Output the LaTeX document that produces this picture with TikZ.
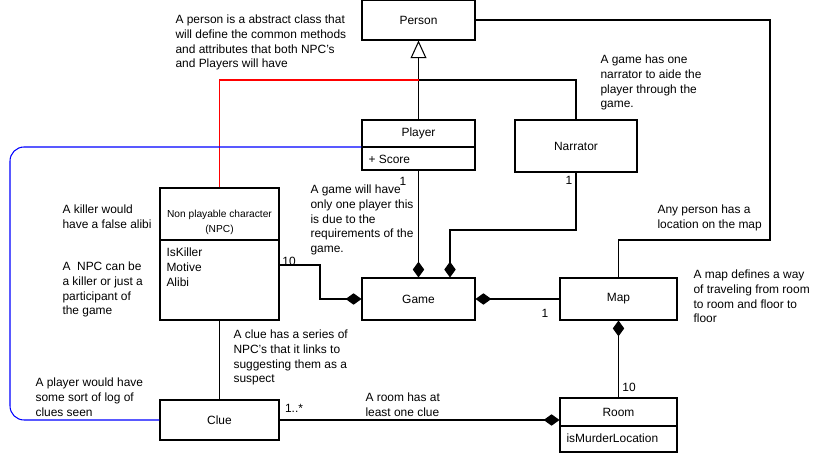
\documentclass[tikz,border=0pt]{standalone}
\usepackage{fontspec}
\setmainfont{Liberation Sans}
\usetikzlibrary{arrows.meta, calc, positioning}
\tikzset{
  cls/.style={draw, fill=white, inner sep=0pt},
  note/.style={anchor=north west, align=left, inner sep=0pt, font=\fontsize{6.8}{8.5}\selectfont},
  lbl/.style={inner sep=0pt, font=\fontsize{6.8}{8.5}\selectfont},
  diamond end/.style={-{Diamond[length=9pt,width=6.5pt]}},
  diamond start/.style={{Diamond[length=9pt,width=6.5pt]}-},
  inherit/.style={-{Triangle[open,length=10pt,width=9pt]}}
}
\begin{document}
\begin{tikzpicture}[x=0.02cm, y=-0.02cm, line width=0.6pt, font=\fontsize{6.8}{8.5}\selectfont]
  \useasboundingbox (0,0) rectangle (822,455);
  % classes
  \node[cls, minimum width=2.26cm, minimum height=0.8cm] (person) at (418.5,20) {Person};
  \node[cls, minimum width=2.26cm, minimum height=1cm] (player) at (418.5,145) {};
  \node[cls, minimum width=2.44cm, minimum height=1.04cm] (narrator) at (576,146) {Narrator};
  \node[cls, minimum width=2.38cm, minimum height=2.64cm] (npc) at (219.5,254) {};
  \node[cls, minimum width=2.26cm, minimum height=0.84cm] (game) at (418.5,299) {Game};
  \node[cls, minimum width=2.34cm, minimum height=0.84cm] (map) at (618.5,299) {Map};
  \node[cls, minimum width=2.38cm, minimum height=0.8cm] (clue) at (219.5,420) {Clue};
  \node[cls, minimum width=2.34cm, minimum height=1.08cm] (room) at (618.5,425) {};
  % compartments
  \draw (player.west |- 0,147) -- (player.east |- 0,147);
  \node[lbl] (playername) at (418.5,133) {Player};
  \node[lbl, anchor=west] (score) at (368,159) {+ Score};
  \draw (npc.west |- 0,240) -- (npc.east |- 0,240);
  \node[lbl, align=center, font=\fontsize{5.8}{8.5}\selectfont] (npcname) at (219.5,222) {Non playable character\\(NPC)};
  \node[note] (npcattr) at (166,247) {IsKiller\\Motive\\Alibi};
  \draw (room.west |- 0,426) -- (room.east |- 0,426);
  \node[lbl] (roomname) at (618.5,412) {Room};
  \node[lbl, anchor=west] (roomattr) at (566,438) {isMurderLocation};
  % inheritance
  \coordinate (join) at (418.5,80);
  \draw[inherit] (player.north) -- (person.south);
  \draw (narrator.north) |- (join);
  \draw[red] (npc.north) |- (join);
  % associations
  \draw[blue, rounded corners=8pt] (player.west |- 0,147) -- (10,147) -- (10,420) -- (clue.west);
  \draw (person.east) -- (770,20) -- (770,240) -| (map.north);
  \draw[diamond end] (player.south) -- (game.north);
  \draw[diamond end] (narrator.south) |- (450,230) -- (game.north -| 450,0);
  \draw[diamond end] (npc.east |- 0,265) -- (320,265) |- (game.west);
  \draw[diamond end] (map.west) -- (game.east);
  \draw[diamond start] (map.south) -- (room.north);
  \draw (npc.south) -- (clue.north);
  \draw[diamond end] (clue.east) -- (clue.east -| room.west);
  % multiplicities
  \node[lbl] (m1) at (403,181) {1};
  \node[lbl] (m2) at (569,180) {1};
  \node[lbl] (m3) at (289,261) {10};
  \node[lbl] (m4) at (545,313) {1};
  \node[lbl] (m5) at (629,387) {10};
  \node[lbl] (m6) at (294,408) {1..*};
  % notes
  \node[note] (n1) at (175,14) {A person is a abstract class that\\will define the common methods\\and attributes that both NPC's\\and Players will have};
  \node[note] (n2) at (600,54) {A game has one\\narrator to aide the\\player through the\\game.};
  \node[note] (n3) at (62,204) {A killer would\\have a false alibi};
  \node[note] (n4) at (62,261) {A \ NPC can be\\a killer or just a\\participant of\\the game};
  \node[note] (n5) at (310,184) {A game will have\\only one player this\\is due to the\\requirements of the\\game.};
  \node[note] (n6) at (657,204) {Any person has a\\location on the map};
  \node[note] (n7) at (693,269) {A map defines a way\\of traveling from room\\to room and floor to\\floor};
  \node[note] (n8) at (233,329) {A clue has a series of\\NPC's that it links to\\suggesting them as a\\suspect};
  \node[note] (n9) at (35,377) {A player would have\\some sort of log of\\clues seen};
  \node[note] (n10) at (365,392) {A room has at\\least one clue};
\end{tikzpicture}
\end{document}
